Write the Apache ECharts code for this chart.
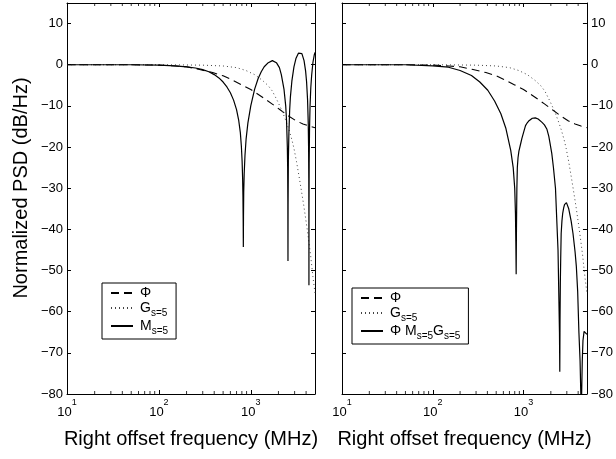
<!DOCTYPE html>
<html>
<head>
<meta charset="utf-8">
<script src="https://cdn.jsdelivr.net/npm/echarts@6/dist/echarts.min.js"></script>
<style>
  html, body { margin: 0; padding: 0; background: #fff; }
  #chart { width: 616px; height: 459px; }
</style>
</head>
<body>
<div id="chart"></div>
<script>
// frequency (MHz) / level (dB/Hz) pairs
const phiF = [10, 50, 100, 150, 200, 270, 385, 500, 600, 800, 1000, 1340, 1700, 2100, 2600, 3100, 3700, 4300, 5000]
const phiDb = [0, 0, -0.1, -0.3, -0.5, -1.1, -1.9, -2.7, -3.5, -4.9, -6.0, -7.9, -9.5, -11.0, -12.5, -13.6, -14.4, -14.9, -15.3]

const gF = [10, 100, 300, 500, 700, 885, 1100, 1340, 1550, 1718, 1950, 2190, 2400, 2607, 2800, 2950, 3150, 3345, 3550, 3790, 4115, 4475, 4745, 5000]
const gDb = [0, 0, -0.1, -0.3, -0.7, -1.4, -2.4, -3.8, -5.1, -6.4, -8.8, -11.2, -13.5, -15.8, -18.2, -20.3, -23.6, -27, -30.5, -34.5, -40, -46.2, -51.5, -55.5]

const mF = [10, 50, 100, 150, 200, 250, 300, 350, 400, 450, 500, 550, 600, 650, 700, 740, 770, 790, 805, 815, 822, 827, 830, 833, 838, 848, 865, 890, 930, 1000,
  1100, 1200, 1300, 1400, 1550, 1718, 1900, 2050, 2150, 2300, 2400, 2450, 2500, 2520, 2532, 2540, 2547, 2565, 2600, 2650, 2700, 2800, 2950, 3100, 3300, 3450,
  3600, 3800, 3950, 4050, 4150, 4220, 4260, 4280, 4290, 4296, 4302, 4320, 4360, 4420, 4500, 4600, 4750, 4900, 5000]
const mDb = [0, 0, -0.1, -0.3, -0.5, -0.8, -1.2, -1.7, -2.4, -3.2, -4.2, -5.4, -6.8, -8.6, -10.9, -13.6, -16.5, -19.8, -23.5, -27.5, -32, -38, -44.3, -37, -31, -26.5, -22, -18, -14.2, -10,
  -6, -3.4, -1.7, -0.5, 0.5, 1.0, 0.5, -0.7, -2.4, -6, -10, -13.5, -20, -25, -33, -47.7, -34, -23, -16.5, -11, -7.8, -4, -0.5, 1.5, 2.8, 3.1,
  2.7, 1.0, -1.5, -4.2, -8.5, -14, -20.5, -27.5, -36, -53.6, -36, -24, -15.5, -9.8, -5.6, -2.5, 0.6, 2.3, 3.0]

const pmgF = [10, 50, 100, 149, 200, 267, 330, 404, 480, 563, 640, 723, 770, 800, 815, 823, 830, 836, 845, 855, 870, 890, 930, 960, 1000, 1052, 1100, 1150, 1250, 1349, 1450, 1600, 1700, 1806,
  1900, 1950, 2050, 2135, 2250, 2318, 2400, 2455, 2490, 2510, 2525, 2545, 2570, 2600, 2650, 2700, 2770, 2830, 2900, 2972, 3050, 3150, 3350, 3510, 3700, 3820, 3950, 4080, 4200, 4280, 4325, 4370, 4440, 4520, 4650, 4800, 5000]
const pmgDb = [0, 0, -0.3, -0.6, -1.4, -2.6, -4.2, -6.2, -8.8, -11.9, -15.5, -20.8, -25, -30, -36, -43, -50.9, -40, -30, -24.9, -22.6, -21, -19.2, -17.9, -16.5, -14.8, -14.1, -13.6, -13.0, -12.9, -13.2, -14.0, -14.6, -15.6,
  -17.4, -18.8, -21.6, -24.9, -30, -37, -45, -57.2, -65, -74.6, -62, -53, -47, -41, -38, -36.2, -34.8, -34, -33.6, -33.5, -33.8, -35, -38, -41, -45.5, -49, -55, -65.2, -72, -80, -95, -80, -72, -67, -64.8, -65, -65.5]

const minorF = [20, 30, 40, 50, 60, 70, 80, 90, 200, 300, 400, 500, 600, 700, 800, 900, 2000, 3000, 4000]

const legendText = {
  phiL: '{n|Φ}',
  gL: '{n|G}{sub|s=5}',
  mL: '{n|M}{sub|s=5}',
  phiR: '{n|Φ}',
  gR: '{n|G}{sub|s=5}',
  pmgR: '{n|Φ M}{sub|s=5}{n|G}{sub|s=5}'
}

const zip = (xs, ys) => xs.map((x, i) => [x, ys[i]])

const font = 'Liberation Sans, Arial, Helvetica, sans-serif'
const black = '#000'

function xAxisFor(grid, position, withLabels) {
  return {
    type: 'log',
    logBase: 10,
    gridIndex: grid,
    position: position,
    min: 10,
    max: 5000,
    axisLine: { show: true, onZero: false, lineStyle: { color: black, width: 1 } },
    axisTick: { show: true, inside: true, length: 4, lineStyle: { color: black } },
    splitLine: { show: false },
    axisLabel: {
      show: withLabels,
      margin: 4,
      color: black,
      fontSize: 13,
      fontFamily: font,
      formatter: function (v) {
        const e = Math.log10(v)
        if (Math.abs(e - Math.round(e)) > 1e-6) return ''
        return '{b|10}{e|' + Math.round(e) + '}'
      },
      rich: {
        b: { fontSize: 13, fontFamily: font, color: black, verticalAlign: 'top', padding: [8, 0, 0, 0] },
        e: { fontSize: 9, fontFamily: font, color: black, verticalAlign: 'top', padding: [0, 0, 0, 0] }
      }
    },
    name: withLabels ? 'Right offset frequency (MHz)' : '',
    nameLocation: 'middle',
    nameGap: 35,
    nameTextStyle: { fontSize: 20, fontFamily: font, color: black }
  }
}

function yAxisFor(grid, position, withLabels) {
  return {
    type: 'value',
    gridIndex: grid,
    position: position,
    min: -80,
    max: 15,
    interval: 10,
    axisLine: { show: true, onZero: false, lineStyle: { color: black, width: 1 } },
    axisTick: { show: true, inside: true, length: 4, lineStyle: { color: black } },
    splitLine: { show: false },
    axisLabel: {
      show: withLabels,
      margin: 4,
      color: black,
      fontSize: 13,
      fontFamily: font,
      formatter: function (v) {
        if (v > 10) return ''
        return String(v).replace('-', '\u2212')
      }
    }
  }
}

function curve(id, xs, ys, xi, yi, style) {
  return {
    name: id,
    type: 'line',
    xAxisIndex: xi,
    yAxisIndex: yi,
    data: zip(xs, ys),
    symbol: 'none',
    showSymbol: false,
    clip: true,
    animation: false,
    lineStyle: style
  }
}

function minorTicks(xi, yi, yVal, dy) {
  return {
    type: 'scatter',
    xAxisIndex: xi,
    yAxisIndex: yi,
    data: minorF.map(f => [f, yVal]),
    symbol: 'rect',
    symbolSize: [1, 3],
    symbolOffset: [0, dy],
    itemStyle: { color: black },
    clip: false,
    silent: true,
    animation: false,
    z: 5
  }
}

const dashStyle = { color: black, width: 1.1, type: [8, 5] }
const dotStyle = { color: '#444', width: 1, type: [1, 3] }
const solidStyle = { color: black, width: 1.2 }

function legendFor(names, left, top) {
  return {
    data: names,
    orient: 'vertical',
    left: left,
    top: top,
    padding: [3, 8, 3, 8],
    itemWidth: 22,
    itemHeight: 14,
    itemGap: -2,
    borderColor: black,
    borderWidth: 1,
    backgroundColor: '#fff',
    selectedMode: false,
    itemStyle: { opacity: 0 },
    formatter: name => legendText[name],
    textStyle: {
      color: black,
      fontSize: 14,
      fontFamily: font,
      padding: [0, 0, 0, 2],
      rich: {
        n: { fontSize: 14, fontFamily: font, color: black, lineHeight: 15, verticalAlign: 'middle' },
        sub: { fontSize: 10, fontFamily: font, color: black, lineHeight: 11, verticalAlign: 'middle', padding: [10, 0, 0, 0] }
      }
    }
  }
}

const chart = echarts.init(document.getElementById('chart'), null, { renderer: 'canvas' })

chart.setOption({
  backgroundColor: '#fff',
  animation: false,
  textStyle: { fontFamily: font },
  grid: [
    { left: 67, top: 3, width: 248, height: 391 },
    { left: 342, top: 3, width: 248, height: 391 }
  ],
  xAxis: [
    xAxisFor(0, 'bottom', true),
    xAxisFor(0, 'top', false),
    xAxisFor(1, 'bottom', true),
    xAxisFor(1, 'top', false)
  ],
  yAxis: [
    yAxisFor(0, 'left', true),
    yAxisFor(0, 'right', false),
    yAxisFor(1, 'right', true),
    yAxisFor(1, 'left', false)
  ],
  legend: [
    legendFor(['phiL', 'gL', 'mL'], 102, 283),
    legendFor(['phiR', 'gR', 'pmgR'], 352, 288)
  ],
  graphic: [
    {
      type: 'text',
      x: 21,
      y: 188,
      rotation: Math.PI / 2,
      style: {
        text: 'Normalized PSD (dB/Hz)',
        font: '20px ' + font,
        fill: black,
        align: 'center',
        verticalAlign: 'middle'
      }
    }
  ],
  series: [
    curve('phiL', phiF, phiDb, 0, 0, dashStyle),
    curve('gL', gF, gDb, 0, 0, dotStyle),
    curve('mL', mF, mDb, 0, 0, solidStyle),
    curve('phiR', phiF, phiDb, 2, 2, dashStyle),
    curve('gR', gF, gDb, 2, 2, dotStyle),
    curve('pmgR', pmgF, pmgDb, 2, 2, solidStyle),
    minorTicks(0, 0, -80, -1.5),
    minorTicks(0, 0, 15, 1.5),
    minorTicks(2, 2, -80, -1.5),
    minorTicks(2, 2, 15, 1.5)
  ]
})
</script>
</body>
</html>
